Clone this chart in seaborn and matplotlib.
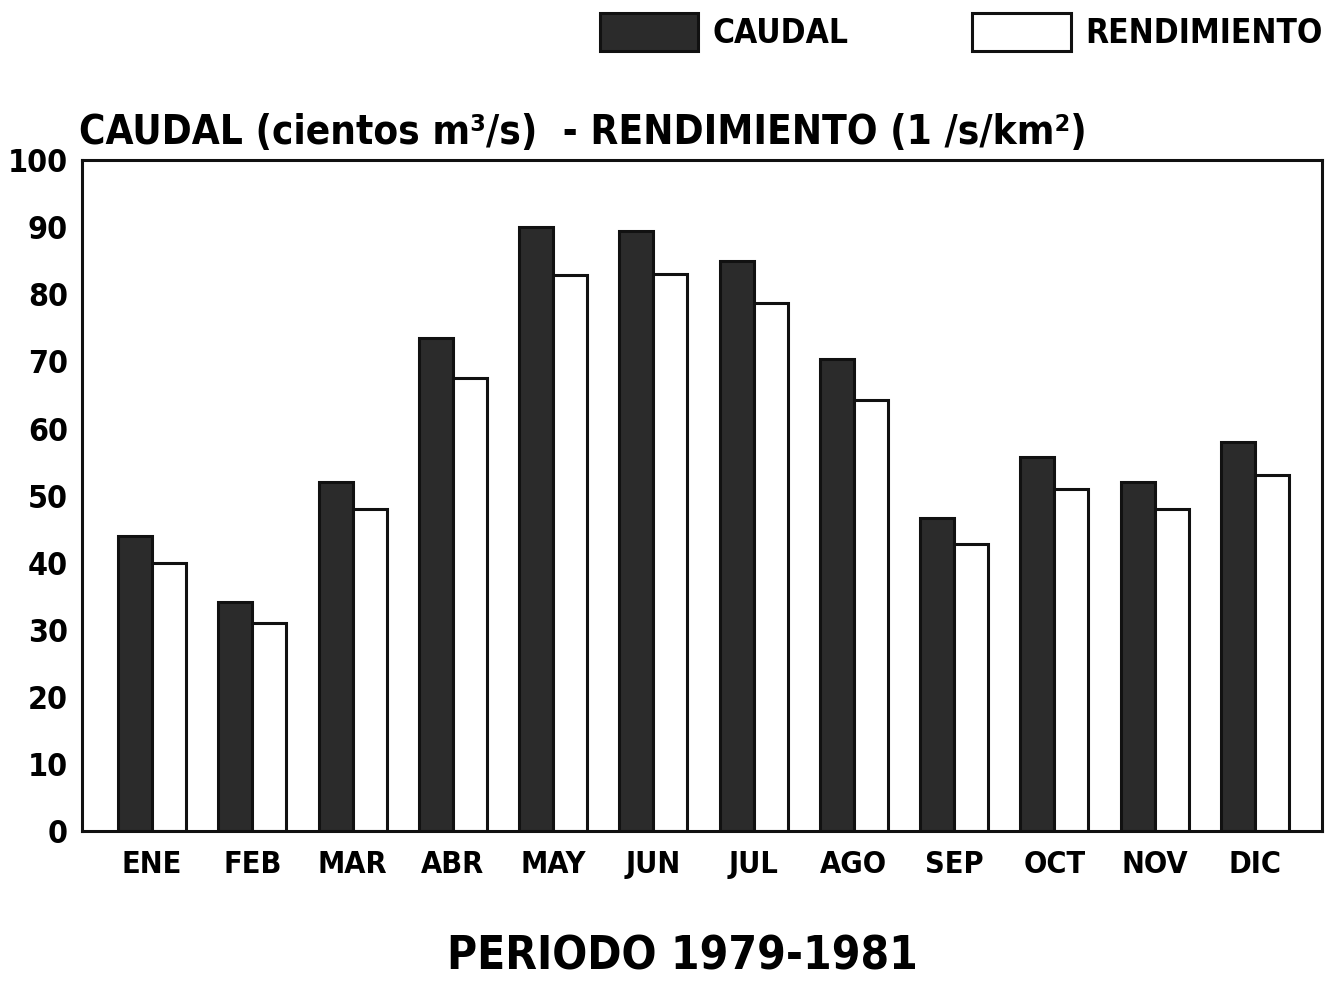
import matplotlib
matplotlib.use("Agg")
import matplotlib.pyplot as plt
import seaborn as sns
import pandas as pd
from matplotlib.patches import Patch

months = ["ENE", "FEB", "MAR", "ABR", "MAY", "JUN", "JUL", "AGO", "SEP", "OCT", "NOV", "DIC"]
caudal = [44, 34.2, 52, 73.5, 90, 89.5, 85, 70.3, 46.7, 55.7, 52.1, 58]
rendimiento = [40, 31, 48, 67.5, 82.9, 83, 78.7, 64.3, 42.8, 51, 48, 53.1]
series = ["CAUDAL", "RENDIMIENTO"]
yticks = [0, 10, 20, 30, 40, 50, 60, 70, 80, 90, 100]

df = pd.DataFrame({
    "mes": months * 2,
    "valor": caudal + rendimiento,
    "serie": [series[0]] * len(months) + [series[1]] * len(months),
})

sns.set_theme(style="white")
plt.rcParams["font.family"] = ["DejaVu Sans"]
plt.rcParams["font.stretch"] = "condensed"
plt.rcParams["font.weight"] = "bold"
plt.rcParams["text.color"] = "black"
plt.rcParams["axes.labelcolor"] = "black"
plt.rcParams["xtick.color"] = "black"
plt.rcParams["ytick.color"] = "black"

fig = plt.figure(figsize=(13.33, 9.89), dpi=100)
ax = fig.add_axes([0.0615, 0.1598, 0.9303, 0.6782])

palette = {"CAUDAL": "#2b2b2b", "RENDIMIENTO": "white"}
sns.barplot(data=df, x="mes", y="valor", hue="serie", order=months,
            hue_order=series, palette=palette, width=0.68, gap=0,
            edgecolor="#111111", linewidth=2.2, saturation=1, ax=ax, legend=False)

ax.set_xlim(-0.70, 11.67)
ax.set_ylim(0, 100)
ax.set_yticks(yticks)
ax.set_yticklabels([str(t) for t in yticks], fontsize=23, fontweight="bold")
ax.tick_params(axis="y", direction="in", length=12, width=2, color="#111111", pad=10)
ax.tick_params(axis="x", length=0, pad=14, labelsize=22)
for lab in ax.get_xticklabels():
    lab.set_fontweight("bold")
for s in ax.spines.values():
    s.set_linewidth(2.2)
    s.set_color("#111111")
ax.set_ylabel("")
ax.set_xlabel("PERIODO 1979-1981", fontsize=33, fontweight="bold", labelpad=40)
ax.xaxis.label.set_x(0.484)
ax.set_title("CAUDAL (cientos m³/s)  - RENDIMIENTO (1 /s/km²)", fontsize=29,
             fontweight="bold", loc="left", pad=12, x=-0.002)

handles = [Patch(facecolor=palette[s], edgecolor="#111111", linewidth=2.2, label=s) for s in series]
fig.legend(handles=handles, loc="upper right", bbox_to_anchor=(1.015, 1.017), ncol=2,
           frameon=False, handlelength=2.95, handleheight=1.35,
           handletextpad=0.45, columnspacing=3.7,
           prop={"weight": "bold", "size": 24, "stretch": "condensed"})

fig.savefig("out.png", dpi=100)
